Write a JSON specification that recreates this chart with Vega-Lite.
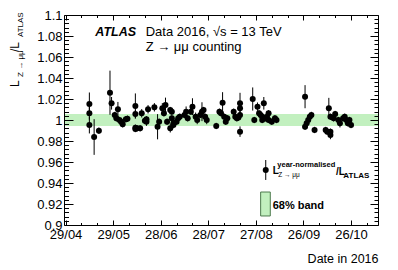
{
  "$schema": "https://vega.github.io/schema/vega-lite/v6.json",
  "width": 314,
  "height": 210,
  "autosize": {"type": "none"},
  "padding": {"left": 64, "top": 15, "right": 20, "bottom": 45},
  "background": "white",
  "config": {
    "view": {"stroke": null},
    "font": "Liberation Sans",
    "axis": {"grid": false, "domainColor": "black", "tickColor": "black", "labelColor": "black", "labelFont": "Liberation Sans", "titleFont": "Liberation Sans", "domainWidth": 1, "tickWidth": 1, "titleColor": "black"}
  },
  "resolve": {"axis": {"x": "independent", "y": "independent"}},
  "datasets": {
    "pts": [
      {"d":"2016-05-14","v":1.0152,"e":0.011},
      {"d":"2016-05-14","v":1.0064,"e":0.006},
      {"d":"2016-05-14","v":0.9952,"e":0.008},
      {"d":"2016-05-17","v":0.9838,"e":0.017},
      {"d":"2016-05-20","v":0.9898,"e":0.003},
      {"d":"2016-05-27","v":1.026,"e":0.021},
      {"d":"2016-05-28","v":1.0159,"e":0.006},
      {"d":"2016-05-30","v":1.0048,"e":0.003},
      {"d":"2016-05-31","v":1.0016,"e":0.003},
      {"d":"2016-06-01","v":1.0102,"e":0.007},
      {"d":"2016-06-02","v":1.0,"e":0.003},
      {"d":"2016-06-03","v":0.9984,"e":0.003},
      {"d":"2016-06-04","v":0.9959,"e":0.003},
      {"d":"2016-06-06","v":1.0007,"e":0.003},
      {"d":"2016-06-07","v":1.0012,"e":0.003},
      {"d":"2016-06-12","v":1.0133,"e":0.012},
      {"d":"2016-06-12","v":1.0057,"e":0.004},
      {"d":"2016-06-12","v":0.9927,"e":0.003},
      {"d":"2016-06-12","v":0.9914,"e":0.003},
      {"d":"2016-06-13","v":0.9921,"e":0.003},
      {"d":"2016-06-15","v":0.9921,"e":0.003},
      {"d":"2016-06-16","v":1.0064,"e":0.004},
      {"d":"2016-06-18","v":0.9993,"e":0.003},
      {"d":"2016-06-19","v":0.9984,"e":0.004},
      {"d":"2016-06-19","v":1.0007,"e":0.003},
      {"d":"2016-06-20","v":1.0102,"e":0.004},
      {"d":"2016-06-24","v":1.0121,"e":0.004},
      {"d":"2016-06-26","v":0.9936,"e":0.012},
      {"d":"2016-06-27","v":0.9984,"e":0.003},
      {"d":"2016-06-29","v":1.0111,"e":0.005},
      {"d":"2016-06-30","v":1.0064,"e":0.003},
      {"d":"2016-07-01","v":1.0143,"e":0.007},
      {"d":"2016-07-02","v":0.9984,"e":0.003},
      {"d":"2016-07-04","v":0.9921,"e":0.004},
      {"d":"2016-07-04","v":1.0095,"e":0.003},
      {"d":"2016-07-05","v":1.0079,"e":0.003},
      {"d":"2016-07-05","v":1.0016,"e":0.003},
      {"d":"2016-07-06","v":0.9969,"e":0.003},
      {"d":"2016-07-06","v":0.9952,"e":0.003},
      {"d":"2016-07-08","v":0.9984,"e":0.003},
      {"d":"2016-07-09","v":1.0016,"e":0.003},
      {"d":"2016-07-10","v":1.0031,"e":0.003},
      {"d":"2016-07-13","v":1.0048,"e":0.003},
      {"d":"2016-07-14","v":1.0079,"e":0.005},
      {"d":"2016-07-15","v":1.0016,"e":0.003},
      {"d":"2016-07-17","v":1.0079,"e":0.003},
      {"d":"2016-07-18","v":1.0127,"e":0.008},
      {"d":"2016-07-20","v":1.0031,"e":0.004},
      {"d":"2016-07-21","v":1.0,"e":0.004},
      {"d":"2016-07-23","v":1.0048,"e":0.003},
      {"d":"2016-07-24","v":1.0079,"e":0.009},
      {"d":"2016-07-25","v":1.0095,"e":0.003},
      {"d":"2016-07-26","v":1.0031,"e":0.003},
      {"d":"2016-07-27","v":1.0,"e":0.004},
      {"d":"2016-08-02","v":0.9943,"e":0.003},
      {"d":"2016-08-04","v":1.0079,"e":0.003},
      {"d":"2016-08-05","v":1.0064,"e":0.003},
      {"d":"2016-08-06","v":1.0165,"e":0.010},
      {"d":"2016-08-07","v":1.0031,"e":0.003},
      {"d":"2016-08-08","v":0.9984,"e":0.003},
      {"d":"2016-08-09","v":1.0016,"e":0.003},
      {"d":"2016-08-13","v":1.0079,"e":0.003},
      {"d":"2016-08-14","v":1.0031,"e":0.003},
      {"d":"2016-08-15","v":1.0016,"e":0.003},
      {"d":"2016-08-16","v":1.0025,"e":0.003},
      {"d":"2016-08-17","v":1.0111,"e":0.004},
      {"d":"2016-08-17","v":1.0159,"e":0.010},
      {"d":"2016-08-17","v":1.0048,"e":0.003},
      {"d":"2016-08-17","v":0.9889,"e":0.005},
      {"d":"2016-08-25","v":1.020,"e":0.011},
      {"d":"2016-08-26","v":1.0,"e":0.003},
      {"d":"2016-08-28","v":1.0127,"e":0.004},
      {"d":"2016-08-29","v":1.0064,"e":0.003},
      {"d":"2016-08-30","v":1.0048,"e":0.003},
      {"d":"2016-08-31","v":1.0,"e":0.003},
      {"d":"2016-08-31","v":1.0031,"e":0.003},
      {"d":"2016-09-01","v":1.0159,"e":0.006},
      {"d":"2016-09-02","v":1.0016,"e":0.003},
      {"d":"2016-09-03","v":1.0031,"e":0.003},
      {"d":"2016-09-04","v":1.0064,"e":0.003},
      {"d":"2016-09-04","v":1.0,"e":0.003},
      {"d":"2016-09-06","v":0.9984,"e":0.003},
      {"d":"2016-09-08","v":1.0016,"e":0.003},
      {"d":"2016-09-09","v":1.0,"e":0.003},
      {"d":"2016-09-27","v":1.0222,"e":0.011},
      {"d":"2016-09-27","v":0.9936,"e":0.003},
      {"d":"2016-09-28","v":0.9969,"e":0.003},
      {"d":"2016-09-29","v":1.0,"e":0.003},
      {"d":"2016-09-30","v":1.0031,"e":0.003},
      {"d":"2016-10-01","v":1.0048,"e":0.003},
      {"d":"2016-10-03","v":0.9905,"e":0.003},
      {"d":"2016-10-10","v":0.9905,"e":0.003},
      {"d":"2016-10-11","v":0.9889,"e":0.003},
      {"d":"2016-10-12","v":1.0111,"e":0.010},
      {"d":"2016-10-13","v":0.9889,"e":0.003},
      {"d":"2016-10-13","v":1.0031,"e":0.003},
      {"d":"2016-10-13","v":0.9857,"e":0.004},
      {"d":"2016-10-15","v":1.0016,"e":0.003},
      {"d":"2016-10-16","v":1.0057,"e":0.003},
      {"d":"2016-10-18","v":1.0,"e":0.003},
      {"d":"2016-10-19","v":0.9969,"e":0.004},
      {"d":"2016-10-21","v":1.0016,"e":0.003},
      {"d":"2016-10-22","v":1.0031,"e":0.003},
      {"d":"2016-10-23","v":1.0,"e":0.003},
      {"d":"2016-10-24","v":0.9969,"e":0.003},
      {"d":"2016-10-25","v":1.0,"e":0.003},
      {"d":"2016-10-26","v":0.9952,"e":0.003}
    ]
  },
  "layer": [
    {
      "data": {"values": [{"d": "2016-04-28", "d2": "2016-11-12", "v": 0.9943, "v2": 1.0057}]},
      "mark": {"type": "rect", "color": "#c2f0bf"},
      "encoding": {
        "x": {"field": "d", "type": "temporal",
          "scale": {"type": "utc", "domain": [{"year": 2016, "month": 4, "date": 28, "utc": true}, {"year": 2016, "month": 11, "date": 12, "utc": true}]},
          "axis": {"orient": "top", "labels": false, "title": null, "zindex": 1,
            "values": [{"year":2016,"month":4,"date":29,"utc":true},{"year":2016,"month":5,"date":9,"utc":true},{"year":2016,"month":5,"date":19,"utc":true},{"year":2016,"month":5,"date":29,"utc":true},{"year":2016,"month":6,"date":8,"utc":true},{"year":2016,"month":6,"date":18,"utc":true},{"year":2016,"month":6,"date":28,"utc":true},{"year":2016,"month":7,"date":8,"utc":true},{"year":2016,"month":7,"date":18,"utc":true},{"year":2016,"month":7,"date":28,"utc":true},{"year":2016,"month":8,"date":7,"utc":true},{"year":2016,"month":8,"date":17,"utc":true},{"year":2016,"month":8,"date":27,"utc":true},{"year":2016,"month":9,"date":6,"utc":true},{"year":2016,"month":9,"date":16,"utc":true},{"year":2016,"month":9,"date":26,"utc":true},{"year":2016,"month":10,"date":6,"utc":true},{"year":2016,"month":10,"date":16,"utc":true},{"year":2016,"month":10,"date":26,"utc":true},{"year":2016,"month":11,"date":5,"utc":true}],
            "tickSize": {"condition": {"test": "round((datum.value - utc(2016,3,29))/864e5) % 30 == 0", "value": -5}, "value": -2.5}}},
        "x2": {"field": "d2"},
        "y": {"field": "v", "type": "quantitative",
          "scale": {"domain": [0.9, 1.1], "nice": false, "zero": false},
          "axis": {"orient": "right", "labels": false, "title": null, "zindex": 1,
            "values": [0.9,0.904,0.908,0.912,0.916,0.92,0.924,0.928,0.932,0.936,0.94,0.944,0.948,0.952,0.956,0.96,0.964,0.968,0.972,0.976,0.98,0.984,0.988,0.992,0.996,1.0,1.004,1.008,1.012,1.016,1.02,1.024,1.028,1.032,1.036,1.04,1.044,1.048,1.052,1.056,1.06,1.064,1.068,1.072,1.076,1.08,1.084,1.088,1.092,1.096,1.1],
            "tickSize": {"condition": {"test": "abs(datum.value*50 - round(datum.value*50)) < 1e-6", "value": -8}, "value": -4}}},
        "y2": {"field": "v2"}
      }
    },
    {
      "data": {"name": "pts"},
      "mark": {"type": "errorbar", "ticks": false, "color": "black", "thickness": 1},
      "encoding": {
        "x": {"field": "d", "type": "temporal", "scale": {"type": "utc", "domain": [{"year": 2016, "month": 4, "date": 28, "utc": true}, {"year": 2016, "month": 11, "date": 12, "utc": true}]}, "axis": null},
        "y": {"field": "v", "type": "quantitative", "scale": {"domain": [0.9, 1.1], "nice": false, "zero": false}, "axis": null},
        "yError": {"field": "e"}
      }
    },
    {
      "data": {"name": "pts"},
      "mark": {"type": "circle", "size": 36, "color": "black", "opacity": 1},
      "encoding": {
        "x": {"field": "d", "type": "temporal",
          "scale": {"type": "utc", "domain": [{"year": 2016, "month": 4, "date": 28, "utc": true}, {"year": 2016, "month": 11, "date": 12, "utc": true}]},
          "axis": {"orient": "bottom", "zindex": 1,
            "values": [{"year":2016,"month":4,"date":29,"utc":true},{"year":2016,"month":5,"date":9,"utc":true},{"year":2016,"month":5,"date":19,"utc":true},{"year":2016,"month":5,"date":29,"utc":true},{"year":2016,"month":6,"date":8,"utc":true},{"year":2016,"month":6,"date":18,"utc":true},{"year":2016,"month":6,"date":28,"utc":true},{"year":2016,"month":7,"date":8,"utc":true},{"year":2016,"month":7,"date":18,"utc":true},{"year":2016,"month":7,"date":28,"utc":true},{"year":2016,"month":8,"date":7,"utc":true},{"year":2016,"month":8,"date":17,"utc":true},{"year":2016,"month":8,"date":27,"utc":true},{"year":2016,"month":9,"date":6,"utc":true},{"year":2016,"month":9,"date":16,"utc":true},{"year":2016,"month":9,"date":26,"utc":true},{"year":2016,"month":10,"date":6,"utc":true},{"year":2016,"month":10,"date":16,"utc":true},{"year":2016,"month":10,"date":26,"utc":true},{"year":2016,"month":11,"date":5,"utc":true}],
            "labelExpr": "round((datum.value - utc(2016,3,29))/864e5) % 30 == 0 ? utcFormat(datum.value, '%d/%m') : ''",
            "tickSize": {"condition": {"test": "round((datum.value - utc(2016,3,29))/864e5) % 30 == 0", "value": -5}, "value": -2.5},
            "labelPadding": 8, "labelFontSize": 13, "labelOverlap": false, "labelFlush": false,
            "title": "Date in 2016", "titleAnchor": "end", "titleAlign": "right", "titleFontSize": 12.5, "titleFontWeight": "normal",
            "titleBaseline": "alphabetic", "titleX": 314, "titleY": 37}},
        "y": {"field": "v", "type": "quantitative",
          "scale": {"domain": [0.9, 1.1], "nice": false, "zero": false},
          "axis": {"orient": "left", "zindex": 1, "title": null,
            "values": [0.9,0.904,0.908,0.912,0.916,0.92,0.924,0.928,0.932,0.936,0.94,0.944,0.948,0.952,0.956,0.96,0.964,0.968,0.972,0.976,0.98,0.984,0.988,0.992,0.996,1.0,1.004,1.008,1.012,1.016,1.02,1.024,1.028,1.032,1.036,1.04,1.044,1.048,1.052,1.056,1.06,1.064,1.068,1.072,1.076,1.08,1.084,1.088,1.092,1.096,1.1],
            "labelExpr": "abs(datum.value*50 - round(datum.value*50)) < 1e-6 ? toString(round(datum.value*100)/100) : ''",
            "tickSize": {"condition": {"test": "abs(datum.value*50 - round(datum.value*50)) < 1e-6", "value": -9}, "value": -4.5},
            "labelPadding": 11, "labelFontSize": 13, "labelOverlap": false, "labelFlush": false}}
      }
    },
    {
      "data": {"values": [{"d": "2016-09-02T05:00:00Z", "v": 0.9524, "e": 0.0095}]},
      "mark": {"type": "errorbar", "ticks": false, "color": "black", "thickness": 1},
      "encoding": {
        "x": {"field": "d", "type": "temporal", "scale": {"type": "utc", "domain": [{"year": 2016, "month": 4, "date": 28, "utc": true}, {"year": 2016, "month": 11, "date": 12, "utc": true}]}, "axis": null},
        "y": {"field": "v", "type": "quantitative", "scale": {"domain": [0.9, 1.1], "nice": false, "zero": false}, "axis": null},
        "yError": {"field": "e"}
      }
    },
    {
      "data": {"values": [{"d": "2016-09-02T05:00:00Z", "v": 0.9524}]},
      "mark": {"type": "circle", "size": 36, "color": "black", "opacity": 1},
      "encoding": {
        "x": {"field": "d", "type": "temporal", "scale": {"type": "utc", "domain": [{"year": 2016, "month": 4, "date": 28, "utc": true}, {"year": 2016, "month": 11, "date": 12, "utc": true}]}, "axis": null},
        "y": {"field": "v", "type": "quantitative", "scale": {"domain": [0.9, 1.1], "nice": false, "zero": false}, "axis": null}
      }
    },
    {
      "data": {"values": [{"d": "2016-08-30T00:00:00Z", "d2": "2016-09-05T02:00:00Z", "v": 0.9086, "v2": 0.9314}]},
      "mark": {"type": "rect", "fill": "#c2f0bf", "stroke": "#4d7a4d", "strokeWidth": 1},
      "encoding": {
        "x": {"field": "d", "type": "temporal", "scale": {"type": "utc", "domain": [{"year": 2016, "month": 4, "date": 28, "utc": true}, {"year": 2016, "month": 11, "date": 12, "utc": true}]}, "axis": null},
        "x2": {"field": "d2"},
        "y": {"field": "v", "type": "quantitative", "scale": {"domain": [0.9, 1.1], "nice": false, "zero": false}, "axis": null},
        "y2": {"field": "v2"}
      }
    },
    {
      "data": {"values": [{"d": "2016-05-17T18:00:00Z", "v": 1.08, "t": "ATLAS"}]},
      "mark": {"type": "text", "align": "left", "baseline": "alphabetic", "font": "Liberation Sans", "fontSize": 12.5, "fontWeight": "bold", "fontStyle": "italic", "color": "black"},
      "encoding": {
        "x": {"field": "d", "type": "temporal", "scale": {"type": "utc", "domain": [{"year": 2016, "month": 4, "date": 28, "utc": true}, {"year": 2016, "month": 11, "date": 12, "utc": true}]}, "axis": null},
        "y": {"field": "v", "type": "quantitative", "scale": {"domain": [0.9, 1.1], "nice": false, "zero": false}, "axis": null},
        "text": {"field": "t"}
      }
    },
    {
      "data": {"values": [{"d": "2016-06-18T12:00:00Z", "v": 1.08, "t": "Data 2016, √s = 13 TeV"}, {"d": "2016-06-18T12:00:00Z", "v": 1.0655, "t": "Z → μμ counting"}]},
      "mark": {"type": "text", "align": "left", "baseline": "alphabetic", "font": "Liberation Sans", "fontSize": 13, "color": "black"},
      "encoding": {
        "x": {"field": "d", "type": "temporal", "scale": {"type": "utc", "domain": [{"year": 2016, "month": 4, "date": 28, "utc": true}, {"year": 2016, "month": 11, "date": 12, "utc": true}]}, "axis": null},
        "y": {"field": "v", "type": "quantitative", "scale": {"domain": [0.9, 1.1], "nice": false, "zero": false}, "axis": null},
        "text": {"field": "t"}
      }
    },
    {
      "data": {"values": [{"d": "2016-09-06T14:00:00Z", "v": 0.9486, "t": "L"}, {"d": "2016-10-16T12:00:00Z", "v": 0.9476, "t": "/L"}]},
      "mark": {"type": "text", "align": "left", "baseline": "alphabetic", "font": "Liberation Sans", "fontSize": 10, "fontWeight": "bold", "color": "black"},
      "encoding": {
        "x": {"field": "d", "type": "temporal", "scale": {"type": "utc", "domain": [{"year": 2016, "month": 4, "date": 28, "utc": true}, {"year": 2016, "month": 11, "date": 12, "utc": true}]}, "axis": null},
        "y": {"field": "v", "type": "quantitative", "scale": {"domain": [0.9, 1.1], "nice": false, "zero": false}, "axis": null},
        "text": {"field": "t"}
      }
    },
    {
      "data": {"values": [{"d": "2016-09-09T12:00:00Z", "v": 0.9557, "t": "year-normalised"}]},
      "mark": {"type": "text", "align": "left", "baseline": "alphabetic", "font": "Liberation Sans", "fontSize": 7.5, "fontWeight": "bold", "color": "black"},
      "encoding": {
        "x": {"field": "d", "type": "temporal", "scale": {"type": "utc", "domain": [{"year": 2016, "month": 4, "date": 28, "utc": true}, {"year": 2016, "month": 11, "date": 12, "utc": true}]}, "axis": null},
        "y": {"field": "v", "type": "quantitative", "scale": {"domain": [0.9, 1.1], "nice": false, "zero": false}, "axis": null},
        "text": {"field": "t"}
      }
    },
    {
      "data": {"values": [{"d": "2016-09-10T03:00:00Z", "v": 0.9457, "t": "Z → μμ"}]},
      "mark": {"type": "text", "align": "left", "baseline": "alphabetic", "font": "Liberation Sans", "fontSize": 6.5, "color": "black"},
      "encoding": {
        "x": {"field": "d", "type": "temporal", "scale": {"type": "utc", "domain": [{"year": 2016, "month": 4, "date": 28, "utc": true}, {"year": 2016, "month": 11, "date": 12, "utc": true}]}, "axis": null},
        "y": {"field": "v", "type": "quantitative", "scale": {"domain": [0.9, 1.1], "nice": false, "zero": false}, "axis": null},
        "text": {"field": "t"}
      }
    },
    {
      "data": {"values": [{"d": "2016-10-21T03:00:00Z", "v": 0.9448, "t": "ATLAS"}]},
      "mark": {"type": "text", "align": "left", "baseline": "alphabetic", "font": "Liberation Sans", "fontSize": 8, "fontWeight": "bold", "color": "black"},
      "encoding": {
        "x": {"field": "d", "type": "temporal", "scale": {"type": "utc", "domain": [{"year": 2016, "month": 4, "date": 28, "utc": true}, {"year": 2016, "month": 11, "date": 12, "utc": true}]}, "axis": null},
        "y": {"field": "v", "type": "quantitative", "scale": {"domain": [0.9, 1.1], "nice": false, "zero": false}, "axis": null},
        "text": {"field": "t"}
      }
    },
    {
      "data": {"values": [{"d": "2016-09-06T14:00:00Z", "v": 0.9148, "t": "68% band"}]},
      "mark": {"type": "text", "align": "left", "baseline": "alphabetic", "font": "Liberation Sans", "fontSize": 11, "fontWeight": "bold", "color": "black"},
      "encoding": {
        "x": {"field": "d", "type": "temporal", "scale": {"type": "utc", "domain": [{"year": 2016, "month": 4, "date": 28, "utc": true}, {"year": 2016, "month": 11, "date": 12, "utc": true}]}, "axis": null},
        "y": {"field": "v", "type": "quantitative", "scale": {"domain": [0.9, 1.1], "nice": false, "zero": false}, "axis": null},
        "text": {"field": "t"}
      }
    },
    {
      "data": {"values": [{"d": "2016-03-30T15:00:00Z", "v": 1.0314, "t": "L"}, {"d": "2016-03-30T15:00:00Z", "v": 1.0648, "t": "/L"}]},
      "mark": {"type": "text", "align": "left", "baseline": "alphabetic", "angle": 270, "font": "Liberation Sans", "fontSize": 12, "color": "black"},
      "encoding": {
        "x": {"field": "d", "type": "temporal", "scale": {"type": "utc", "domain": [{"year": 2016, "month": 4, "date": 28, "utc": true}, {"year": 2016, "month": 11, "date": 12, "utc": true}]}, "axis": null},
        "y": {"field": "v", "type": "quantitative", "scale": {"domain": [0.9, 1.1], "nice": false, "zero": false}, "axis": null},
        "text": {"field": "t"}
      }
    },
    {
      "data": {"values": [{"d": "2016-04-02T04:00:00Z", "v": 1.041, "t": "Z → μμ"}, {"d": "2016-04-02T04:00:00Z", "v": 1.079, "t": "ATLAS"}]},
      "mark": {"type": "text", "align": "left", "baseline": "alphabetic", "angle": 270, "font": "Liberation Sans", "fontSize": 8, "color": "black"},
      "encoding": {
        "x": {"field": "d", "type": "temporal", "scale": {"type": "utc", "domain": [{"year": 2016, "month": 4, "date": 28, "utc": true}, {"year": 2016, "month": 11, "date": 12, "utc": true}]}, "axis": null},
        "y": {"field": "v", "type": "quantitative", "scale": {"domain": [0.9, 1.1], "nice": false, "zero": false}, "axis": null},
        "text": {"field": "t"}
      }
    }
  ]
}
